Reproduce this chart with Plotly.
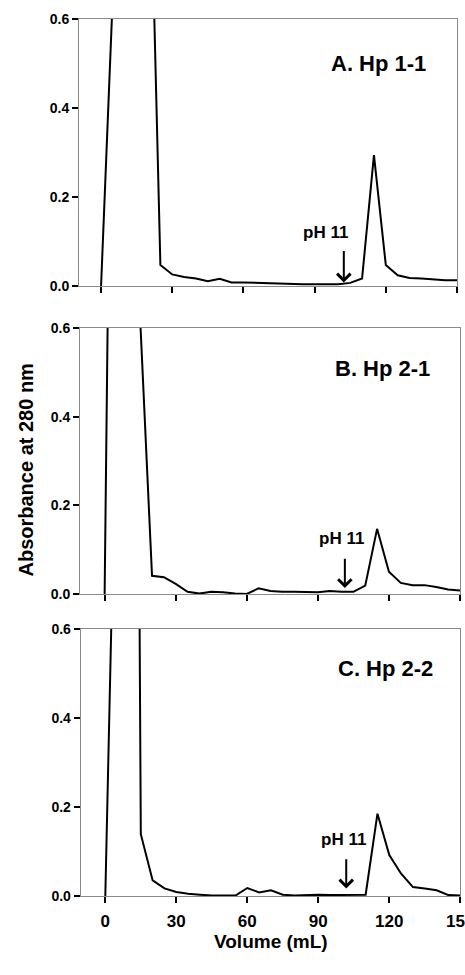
import plotly.graph_objects as go

volume = [0, 5, 10, 15, 20, 25, 30, 35, 40, 45, 50, 55, 60, 65, 70, 75, 80, 85, 90, 95,
          100, 105, 110, 115, 120, 125, 130, 135, 140, 145, 150]
abs_hp11 = [0, 0.66, 1.5, 1.6, 1.13, 0.047, 0.026, 0.020, 0.017, 0.011, 0.016, 0.008, 0.008,
            0.007, 0.007, 0.005, 0.005, 0.004, 0.004, 0.004, 0.004, 0.007, 0.017, 0.294,
            0.047, 0.024, 0.018, 0.017, 0.015, 0.013, 0.013]
abs_hp21 = [0, 2.4, 2.0, 0.62, 0.041, 0.038, 0.023, 0.005, 0.001, 0.005, 0.004, 0.001, 0.0,
            0.013, 0.007, 0.005, 0.005, 0.004, 0.004, 0.007, 0.005, 0.005, 0.019, 0.147,
            0.050, 0.025, 0.020, 0.020, 0.016, 0.010, 0.008]
abs_hp22 = [0, 1.2, 4.75, 0.139, 0.035, 0.017, 0.009, 0.005, 0.003, 0.001, 0.001, 0.001, 0.018,
            0.008, 0.013, 0.003, 0.001, 0.002, 0.003, 0.002, 0.002, 0.002, 0.003, 0.185,
            0.092, 0.050, 0.020, 0.017, 0.013, 0.002, 0.001]
panel_labels = ["A. Hp 1-1", "B. Hp 2-1", "C. Hp 2-2"]
x_ticks = [0, 30, 60, 90, 120, 150]
y_ticks = [0.0, 0.2, 0.4, 0.6]
ph_label = "pH 11"
ph_volume = [102.3, 101.4, 101.8]

W, H = 465, 975
FONT = "Liberation Sans, Arial, sans-serif"

boxes = [(79, 457, 19, 286), (80, 460, 328, 594), (80.7, 460.3, 629, 896)]
xranges = [[-9.3, 150], [-10.4, 150], [-10.4, 150]]

fig = go.Figure()
series = [abs_hp11, abs_hp21, abs_hp22]
for i, ys in enumerate(series):
    n = "" if i == 0 else str(i + 1)
    fig.add_trace(go.Scatter(x=volume, y=ys, mode="lines",
                             line=dict(color="black", width=2),
                             xaxis="x" + n, yaxis="y" + n, showlegend=False,
                             hoverinfo="skip"))

layout = dict(width=W, height=H, margin=dict(l=0, r=0, t=0, b=0, pad=0),
              paper_bgcolor="white", plot_bgcolor="white",
              font=dict(family=FONT, color="black"), showlegend=False)

annotations = []
title_pos = [(117.1, 0.499), (117.4, 0.508), (118.3, 0.512)]
ph_text_pos = [(94.6, 0.12), (99.8, 0.125), (100.5, 0.128)]
arrow_y = [(0.008, 0.082), (0.0135, 0.083), (0.017, 0.086)]

for i, (l, r, t, b) in enumerate(boxes):
    n = "" if i == 0 else str(i + 1)
    xa = dict(domain=[l / W, r / W], range=xranges[i], anchor="y" + n, automargin=False,
              showline=True, linecolor="#8a8a8a", linewidth=1, mirror=True,
              ticks="outside", ticklen=6, tickwidth=2, tickcolor="black",
              tickvals=x_ticks, showticklabels=(i == 2), showgrid=False, zeroline=False,
              ticklabeloverflow="allow", ticklabelstandoff=4,
              tickfont=dict(family=FONT, size=17, weight="bold", color="black"))
    ya = dict(domain=[1 - b / H, 1 - t / H], range=[0, 0.6], anchor="x" + n, automargin=False,
              showline=True, linecolor="#8a8a8a", linewidth=1, mirror=True,
              ticks="outside", ticklen=6, tickwidth=2, tickcolor="black",
              tickvals=y_ticks, tickformat=".1f", showgrid=False, zeroline=False,
              tickfont=dict(family=FONT, size=14, weight="bold", color="black"))
    layout["xaxis" + n] = xa
    layout["yaxis" + n] = ya

    annotations.append(dict(x=title_pos[i][0], y=title_pos[i][1], xref="x" + n, yref="y" + n,
                            text=panel_labels[i], showarrow=False,
                            font=dict(family=FONT, size=22, weight="bold", color="black")))
    annotations.append(dict(x=ph_text_pos[i][0], y=ph_text_pos[i][1], xref="x" + n, yref="y" + n,
                            text=ph_label, showarrow=False,
                            font=dict(family=FONT, size=17, weight="bold", color="black")))
    annotations.append(dict(x=ph_volume[i], y=arrow_y[i][0], ax=ph_volume[i], ay=arrow_y[i][1],
                            xref="x" + n, yref="y" + n, axref="x" + n, ayref="y" + n,
                            text="", showarrow=True, arrowhead=4, arrowsize=1.3,
                            arrowwidth=2, arrowcolor="black"))

annotations.append(dict(x=12.5 / W, y=1 - 470 / H, xref="paper", yref="paper",
                        text="Absorbance at 280 nm", textangle=-90, showarrow=False,
                        font=dict(family=FONT, size=20, weight="bold", color="black")))
annotations.append(dict(x=270.7 / W, y=1 - 954 / H, xref="paper", yref="paper",
                        text="Volume (mL)", showarrow=False,
                        font=dict(family=FONT, size=19, weight="bold", color="black")))
layout["annotations"] = annotations

fig.update_layout(**layout)
fig.write_html("out.html", post_script="document.body.style.margin='0px';")
